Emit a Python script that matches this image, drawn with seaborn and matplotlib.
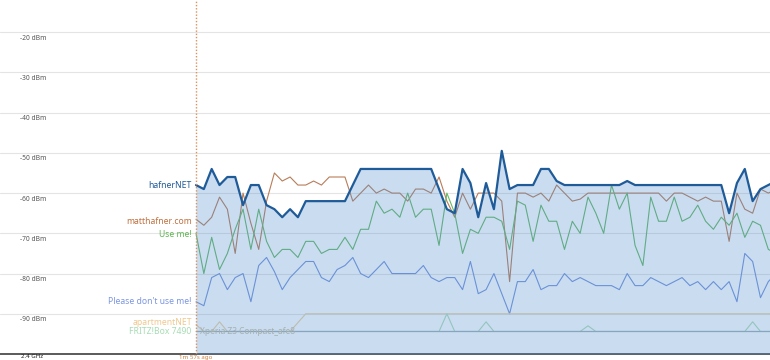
import matplotlib
matplotlib.use("Agg")
import matplotlib.pyplot as plt
import seaborn as sns

sns.set_style("white")
plt.rcParams['font.family'] = ['Noto Sans', 'DejaVu Sans']

samples = list(range(75))

hafnernet = [-58, -59, -54, -58, -56, -56, -63, -58, -58, -63,
             -64, -66, -64, -66, -62, -62, -62, -62, -62, -62,
             -58, -54, -54, -54, -54, -54, -54, -54, -54, -54,
             -54, -59, -64, -65, -54, -57.5, -66, -57.5, -64, -49.5,
             -59, -58, -58, -58, -54, -54, -57, -58, -58, -58,
             -58, -58, -58, -58, -58, -57, -58, -58, -58, -58,
             -58, -58, -58, -58, -58, -58, -58, -58, -65, -57.5,
             -54, -62, -59, -58, -57]

matthafner = [-66.5, -68, -66, -61, -64, -75, -60, -67.5, -74, -62,
              -55, -57, -56, -58, -58, -57, -58, -56, -56, -56,
              -62, -60, -58, -60, -59, -60, -60, -62, -59, -59,
              -60, -56, -62, -66, -60, -64, -60, -60, -60, -62,
              -82, -60, -60, -61, -60, -62, -58, -60, -62, -61.5,
              -60, -60, -60, -60, -60, -60, -60, -60, -60, -60,
              -62, -60, -60, -61, -62, -61, -62, -62, -72, -60,
              -64, -65, -59, -60, -59]

use_me = [-70, -80, -71, -79, -75, -69, -64, -74, -64, -72,
          -76, -74, -74, -76, -72, -72, -75, -74, -74, -71,
          -74, -69, -69, -62, -65, -64, -66, -60, -66, -64,
          -64, -73, -60, -65, -75, -69, -70, -66, -66, -67,
          -74, -62, -63, -72, -63, -67, -67, -74, -67, -70,
          -61, -65, -70, -58, -64, -60, -73, -78, -61, -67,
          -67, -61, -67, -66, -63, -67, -69, -66, -68, -65,
          -71, -67, -68, -74, -75]

dont_use_me = [-87, -88, -81, -80, -84, -81, -80, -87, -78, -76,
               -79.5, -84, -81, -79, -77, -77, -81, -82, -79, -78,
               -76, -80, -81, -79, -77, -80, -80, -80, -80, -78,
               -81, -82, -81, -81, -84, -77, -85, -84, -80, -85,
               -90, -82, -82, -79, -84, -83, -83, -80, -82, -81,
               -82, -83, -83, -83, -84, -80, -83, -83, -81, -82,
               -83, -82, -81, -83, -82, -84, -82, -84, -82, -87,
               -75, -77, -86, -82, -80]

apartment = [-92.7, -94.4, -94.4, -92, -94.4, -94.4, -94.4, -94.4, -94.4, -94.4,
             -94.4, -94.4, -94.4, -92.2, -90, -90, -90, -90, -90, -90,
             -90, -90, -90, -90, -90, -90, -90, -90, -90, -90,
             -90, -90, -90, -90, -90, -90, -90, -90, -90, -90,
             -90, -90, -90, -90, -90, -90, -90, -90, -90, -90,
             -90, -90, -90, -90, -90, -90, -90, -90, -90, -90,
             -90, -90, -90, -90, -90, -90, -90, -90, -90, -90,
             -90, -90, -90, -90, -90]

fritzbox = [-94.4, -94.4, -94.4, -94.4, -94.4, -94.4, -94.4, -94.4, -94.4, -94.4,
            -94.4, -94.4, -94.4, -94.4, -94.4, -94.4, -94.4, -94.4, -94.4, -94.4,
            -94.4, -94.4, -94.4, -94.4, -94.4, -94.4, -94.4, -94.4, -94.4, -94.4,
            -94.4, -94.4, -90, -94.4, -94.4, -94.4, -94.4, -92, -94.4, -94.4,
            -94.4, -94.4, -94.4, -94.4, -94.4, -94.4, -94.4, -94.4, -94.4, -94.4,
            -93, -94.4, -94.4, -94.4, -94.4, -94.4, -94.4, -94.4, -94.4, -94.4,
            -94.4, -94.4, -94.4, -94.4, -94.4, -94.4, -94.4, -94.4, -94.4, -94.4,
            -94.4, -92, -94.4, -94.4, -94.4]

xperia = [-94.4] * 75

y_ticks = [-20, -30, -40, -50, -60, -70, -80, -90]
y_tick_labels = ["-20 dBm", "-30 dBm", "-40 dBm", "-50 dBm",
                 "-60 dBm", "-70 dBm", "-80 dBm", "-90 dBm"]

series_names = ["hafnerNET", "matthafner.com", "Use me!", "Please don't use me!",
                "apartmentNET", "FRITZ!Box 7490"]
label_colors = ["#1f5b99", "#c0703f", "#5cb84f", "#7b96e0", "#f0c890", "#a6dcb4"]
line_colors = ["#1f5b99", "#b97c58", "#66b966", "#7593dc", "#ecd0a4", "#b0ddb8"]

W, H = 770, 360
fig = plt.figure(figsize=(W / 100, H / 100), dpi=100)
ax = fig.add_axes([0, 6 / H, 1, 354 / H])
spacing = 7.84
x_start_px = 196
ax.set_xlim(-x_start_px / spacing, (W - x_start_px) / spacing)
ax.set_ylim(-100, -12)

ax.axhline(-10, color="#e4e4e4", lw=0.8, zorder=0)
for v, lab in zip(y_ticks, y_tick_labels):
    ax.axhline(v, color="#e4e4e4", lw=0.8, zorder=0)
    ax.text(20.5 / W, v - 0.6, lab, transform=ax.get_yaxis_transform(),
            ha="left", va="top", fontsize=4.8, color="#555555", clip_on=False)

others = [matthafner, use_me, dont_use_me, apartment, fritzbox]
for vals, col in zip(others, line_colors[1:]):
    sns.lineplot(x=samples, y=vals, ax=ax, color=col, lw=0.8, zorder=2)
sns.lineplot(x=samples, y=xperia, ax=ax, color="#9fb0b8", lw=0.9, zorder=2)

ax.fill_between(samples, hafnernet, -100, color="#528ecd", alpha=0.3, lw=0, zorder=3)
sns.lineplot(x=samples, y=hafnernet, ax=ax, color=line_colors[0], lw=1.6, zorder=4)

ax.axvline(0, color="#d9925e", lw=1.0, ls=(0, (1, 1.3)), zorder=5)

first_vals = [hafnernet[0], matthafner[0] - 0.6, use_me[0] - 0.3, dont_use_me[0],
              apartment[0] + 0.5, fritzbox[0]]
for i, (name, col, v) in enumerate(zip(series_names, label_colors, first_vals)):
    ax.text(-0.55, v, name, ha="right", va="center", fontsize=6.2, color=col,
            fontweight="bold" if i == 0 else "normal", zorder=6)
ax.text(0.55, xperia[0], "Xperia Z3 Compact_afe8", ha="left", va="center",
        fontsize=6, color="#a6b0b0", zorder=6)

ax.set_xticks([])
ax.set_yticks([])
ax.set_xlabel("")
ax.set_ylabel("")
for s in ["top", "left", "right"]:
    ax.spines[s].set_visible(False)
ax.spines["bottom"].set_color("#5a5a5a")
ax.spines["bottom"].set_linewidth(1.4)

fig.text(21 / W, 0.5 / H, "2.4 GHz", ha="left", va="bottom", fontsize=4.4,
         fontweight="bold", color="#222222")
fig.text(196 / W, 0.5 / H, "1m 57s ago", ha="center", va="bottom", fontsize=4.4,
         color="#d08040")

fig.savefig("out.png", dpi=100)
